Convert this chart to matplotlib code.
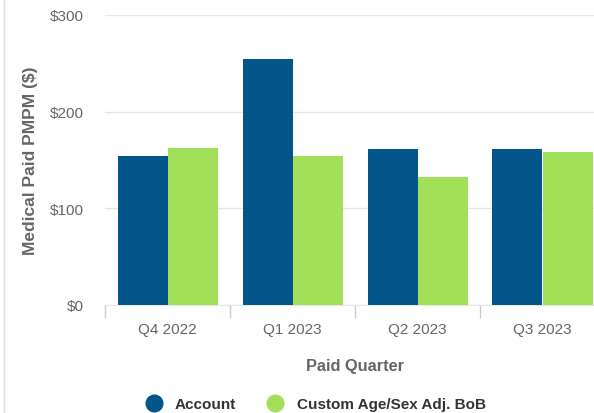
import numpy as np
import matplotlib.pyplot as plt
from matplotlib.lines import Line2D

quarters = ['Q4 2022', 'Q1 2023', 'Q2 2023', 'Q3 2023']
account = [154, 255, 161, 161]
bob = [162, 154, 132, 158]

plt.rcParams['font.family'] = ['Liberation Sans', 'DejaVu Sans']

c_account = '#02568A'
c_bob = '#A3E05A'
grey = '#666666'

fig = plt.figure(figsize=(5.94, 4.14), dpi=100)
ax = fig.add_axes([105 / 594, 108 / 414, 500 / 594, 290 / 414])

x = np.arange(len(quarters))
w = 0.4
ax.bar(x - w / 2, account, w, color=c_account, zorder=3)
ax.bar(x + w / 2, bob, w, color=c_bob, zorder=3)

ax.set_xlim(-0.5, len(quarters) - 0.5)
ax.set_ylim(0, 300)
ax.set_yticks([0, 100, 200, 300])
ax.set_yticklabels(['$0', '$100', '$200', '$300'])
ax.grid(axis='y', color='#e6e6e6', linewidth=1, zorder=0)

ax.set_xticks(x)
ax.set_xticklabels(quarters)
ax.set_xticks(np.arange(len(quarters)) - 0.5, minor=True)
ax.tick_params(axis='x', which='major', length=0, pad=12, labelsize=11, labelcolor=grey)
ax.tick_params(axis='x', which='minor', length=9, width=1, color='#cccccc')
ax.tick_params(axis='y', length=0, pad=15, labelsize=11, labelcolor=grey)

for s in ['top', 'right', 'left']:
    ax.spines[s].set_visible(False)
ax.spines['bottom'].set_color('#e6e6e6')

ax.set_ylabel('Medical Paid PMPM ($)', fontsize=12.5, fontweight='bold', color=grey, labelpad=9)
ax.set_xlabel('Paid Quarter', fontsize=11.8, fontweight='bold', color=grey, labelpad=16)

# container border on the left
fig.add_artist(Line2D([4 / 594, 4 / 594], [0, 1], color='#e0e0e0', linewidth=1))

handles = [
    Line2D([], [], marker='o', linestyle='', markersize=12, color=c_account, label='Account'),
    Line2D([], [], marker='o', linestyle='', markersize=12, color=c_bob, label='Custom Age/Sex Adj. BoB'),
]
leg = fig.legend(handles=handles, loc='center', bbox_to_anchor=(312 / 594, 9 / 414), ncol=2,
                 frameon=False, handletextpad=0.4, columnspacing=1.55,
                 prop={'weight': 'bold', 'size': 11})
for t in leg.get_texts():
    t.set_color('#333333')

fig.savefig('out.png', dpi=100)
